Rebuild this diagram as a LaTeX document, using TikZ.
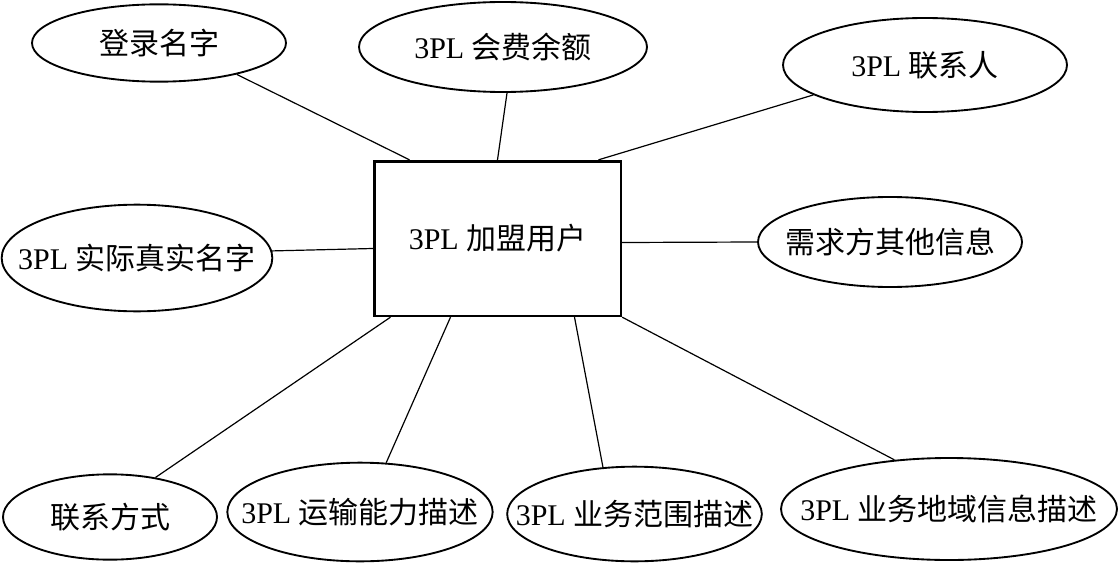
\documentclass[tikz,border=0pt]{standalone}
\usepackage{fontspec}
\setmainfont{Liberation Serif}
\newfontfamily\cjk{Noto Sans CJK SC}
\usepackage{tikz}
\usetikzlibrary{shapes.geometric,calc}
\newcommand{\nowide}[1]{\makebox[0pt]{#1}}

\begin{document}
\begin{tikzpicture}[x=0.75pt, y=-0.75pt,
  attr/.style={draw, ellipse, line width=1.4pt, inner sep=0pt, font=\fontsize{22.5}{27}\selectfont},
  entity/.style={draw, rectangle, line width=2pt, inner sep=0pt, font=\fontsize{22.5}{27}\selectfont},
  link/.style={line width=0.9pt}]
  \useasboundingbox (0,0) rectangle (1119,563);

  % Entity
  \node[entity, minimum width=185pt, minimum height=116pt] (user) at (497.5,238.5) {3PL \cjk 加盟用户};

  % Attributes, top row
  \node[attr, minimum width=190.5pt, minimum height=58pt] (login) at (159,43) {\nowide{\cjk 登录名字}};
  \node[attr, minimum width=216pt, minimum height=67.5pt] (fee) at (503,47) {\nowide{3PL \cjk 会费余额}};
  \node[attr, minimum width=213pt, minimum height=70.5pt] (person) at (925,65) {\nowide{3PL \cjk 联系人}};

  % Attributes, middle row
  \node[attr, minimum width=203pt, minimum height=80pt] (realname) at (137,258) {\nowide{3PL \cjk 实际真实名字}};
  \node[attr, minimum width=198pt, minimum height=67.5pt] (other) at (890,242) {\nowide{\cjk 需求方其他信息}};

  % Attributes, bottom row
  \node[attr, minimum width=160.5pt, minimum height=64pt] (method) at (110,517) {\nowide{\cjk 联系方式}};
  \node[attr, minimum width=199pt, minimum height=74pt] (transport) at (360,512) {\nowide{3PL \cjk 运输能力描述}};
  \node[attr, minimum width=191pt, minimum height=71pt] (scope) at (634.5,514) {\nowide{3PL \cjk 业务范围描述}};
  \node[attr, minimum width=252pt, minimum height=76.5pt] (region) at (949,509) {\nowide{3PL \cjk 业务地域信息描述}};

  % Links to the entity
  \draw[link] (login.-22) -- ($(user.north)+(-88,0)$);
  \draw[link] (fee.-85) -- (user.north);
  \draw[link] (person.-165) -- ($(user.north)+(101,0)$);
  \draw[link] (realname.3) -- ($(user.west)+(0,10)$);
  \draw[link] (other.west) -- ($(user.east)+(0,4)$);
  \draw[link] (method.41) -- ($(user.south)+(-107,0)$);
  \draw[link] (transport.62) -- ($(user.south)+(-47,0)$);
  \draw[link] (scope.124) -- ($(user.south)+(77,0)$);
  \draw[link] (region.138) -- (user.south east);
\end{tikzpicture}
\end{document}
